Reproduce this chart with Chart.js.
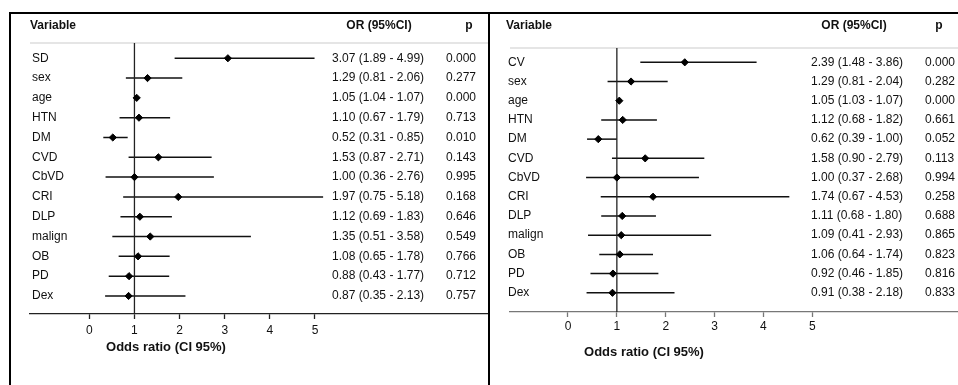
<!DOCTYPE html>
<html>
<head>
<meta charset="utf-8">
<script src="https://cdn.jsdelivr.net/npm/chart.js@4/dist/chart.umd.min.js"></script>
<style>
  html, body { margin: 0; padding: 0; background: #fff; }
  body { width: 958px; height: 385px; position: relative; overflow: hidden; }
  canvas { position: absolute; top: 0; }
  #leftCanvas { left: 0; }
  #rightCanvas { left: 489px; }
  .box { position: absolute; top: 12px; height: 400px; border-left: 2px solid #000; border-top: 2px solid #000; }
  #boxLeft { left: 9px; width: 480px; }
  #boxRight { left: 488px; width: 480px; }
</style>
</head>
<body>
<canvas id="leftCanvas" width="489" height="385"></canvas>
<canvas id="rightCanvas" width="469" height="385"></canvas>
<div class="box" id="boxLeft"></div>
<div class="box" id="boxRight"></div>
<script>
// Left panel (SD model)
const vars1 = ['SD', 'sex', 'age', 'HTN', 'DM', 'CVD', 'CbVD', 'CRI', 'DLP', 'malign', 'OB', 'PD', 'Dex'];
const or1 = [3.07, 1.29, 1.05, 1.10, 0.52, 1.53, 1.00, 1.97, 1.12, 1.35, 1.08, 0.88, 0.87];
const lo1 = [1.89, 0.81, 1.04, 0.67, 0.31, 0.87, 0.36, 0.75, 0.69, 0.51, 0.65, 0.43, 0.35];
const hi1 = [4.99, 2.06, 1.07, 1.79, 0.85, 2.71, 2.76, 5.18, 1.83, 3.58, 1.78, 1.77, 2.13];
const p1 = ['0.000', '0.277', '0.000', '0.713', '0.010', '0.143', '0.995', '0.168', '0.646', '0.549', '0.766', '0.712', '0.757'];

// Right panel (CV model)
const vars2 = ['CV', 'sex', 'age', 'HTN', 'DM', 'CVD', 'CbVD', 'CRI', 'DLP', 'malign', 'OB', 'PD', 'Dex'];
const or2 = [2.39, 1.29, 1.05, 1.12, 0.62, 1.58, 1.00, 1.74, 1.11, 1.09, 1.06, 0.92, 0.91];
const lo2 = [1.48, 0.81, 1.03, 0.68, 0.39, 0.90, 0.37, 0.67, 0.68, 0.41, 0.64, 0.46, 0.38];
const hi2 = [3.86, 2.04, 1.07, 1.82, 1.00, 2.79, 2.68, 4.53, 1.80, 2.93, 1.74, 1.85, 2.18];
const p2 = ['0.000', '0.282', '0.000', '0.661', '0.052', '0.113', '0.994', '0.258', '0.688', '0.865', '0.823', '0.816', '0.833'];

const xTicks = [0, 1, 2, 3, 4, 5];
const refValue = 1;
const headers = ['Variable', 'OR (95%CI)', 'p'];
const axisTitle = 'Odds ratio (CI 95%)';

const FONT = "'Liberation Sans', Arial, sans-serif";
const fmt = v => v.toFixed(2);

function makeForest(id, d) {
    const ctx = document.getElementById(id).getContext('2d');

    // one short line per row for the confidence interval
    const ciSets = d.vars.map((v, i) => ({
        type: 'line',
        data: [{ x: d.lo[i], y: i }, { x: d.hi[i], y: i }],
        borderColor: '#111',
        borderWidth: 1.5,
        pointRadius: 0
    }));

    const textPlugin = {
        id: 'forestText',
        beforeDatasetsDraw(chart) {
            const c = chart.ctx;
            const area = chart.chartArea;
            c.save();
            c.strokeStyle = '#dcdcdc';
            c.lineWidth = 1.5;
            c.beginPath();
            c.moveTo(area.left, area.top);
            c.lineTo(chart.width, area.top);
            c.stroke();
            c.restore();
        },
        afterDraw(chart) {
            const c = chart.ctx;
            const yScale = chart.scales.y;
            c.save();
            c.fillStyle = '#111';
            c.textBaseline = 'middle';

            // header row
            c.font = 'bold 12px ' + FONT;
            c.textAlign = 'left';
            c.fillText(headers[0], d.labelX - 2, 26);
            c.textAlign = 'center';
            c.fillText(headers[1], d.orHeadX, 26);
            c.fillText(headers[2], d.pHeadX, 26);

            // rows
            c.font = '12px ' + FONT;
            c.textAlign = 'left';
            d.vars.forEach((v, i) => {
                const y = yScale.getPixelForValue(i);
                c.fillText(v, d.labelX, y);
                c.fillText(fmt(d.or[i]) + ' (' + fmt(d.lo[i]) + ' - ' + fmt(d.hi[i]) + ')', d.orX, y);
                c.fillText(d.p[i], d.pX, y);
            });

            // axis title
            c.font = 'bold 13px ' + FONT;
            c.textAlign = 'center';
            c.fillText(axisTitle, d.titleX, d.titleY);
            c.restore();
        }
    };

    return new Chart(ctx, {
        type: 'scatter',
        data: {
            datasets: [{
                type: 'scatter',
                data: d.or.map((v, i) => ({ x: v, y: i })),
                pointStyle: 'rectRot',
                pointRadius: 3.6,
                backgroundColor: '#000',
                borderColor: '#000',
                borderWidth: 1
            }, {
                type: 'line',
                data: [{ x: refValue, y: d.yMin }, { x: refValue, y: d.yMax }],
                borderColor: '#222',
                borderWidth: 1.3,
                pointRadius: 0
            }, ...ciSets]
        },
        options: {
            responsive: false,
            animation: false,
            devicePixelRatio: 1,
            layout: { padding: d.padding, autoPadding: false },
            plugins: {
                legend: { display: false },
                tooltip: { enabled: false }
            },
            scales: {
                x: {
                    type: 'linear',
                    min: d.xMin,
                    max: d.xMax,
                    afterBuildTicks: axis => { axis.ticks = xTicks.map(v => ({ value: v })); },
                    afterFit: axis => { axis.height = 30; },
                    grid: { drawOnChartArea: false, drawTicks: true, tickLength: 5, tickWidth: 1.3, tickColor: d.axisColor, color: d.axisColor },
                    border: { display: true, color: d.axisColor, width: 1.3 },
                    ticks: {
                        color: '#111',
                        padding: d.tickPad,
                        font: { family: FONT, size: 12 },
                        callback: v => v
                    }
                },
                y: {
                    type: 'linear',
                    reverse: true,
                    min: d.yMin,
                    max: d.yMax,
                    display: false
                }
            }
        },
        plugins: [textPlugin]
    });
}

makeForest('leftCanvas', {
    vars: vars1, or: or1, lo: lo1, hi: hi1, p: p1,
    xMin: -1.314, xMax: 8.855, yMin: -0.77, yMax: 12.91,
    padding: { left: 30, right: 0, top: 43, bottom: 41 },
    labelX: 32, orX: 332, orHeadX: 379, pX: 446, pHeadX: 469,
    titleX: 166, titleY: 347, tickPad: 4, axisColor: '#222'
});

makeForest('rightCanvas', {
    vars: vars2, or: or2, lo: lo2, hi: hi2, p: p2,
    xMin: -1.187, xMax: 7.982, yMin: -0.745, yMax: 13.0,
    padding: { left: 21, right: 0, top: 48, bottom: 43 },
    labelX: 19, orX: 322, orHeadX: 365, pX: 436, pHeadX: 450,
    titleX: 155, titleY: 352, tickPad: 2, axisColor: '#777'
});
</script>
</body>
</html>
